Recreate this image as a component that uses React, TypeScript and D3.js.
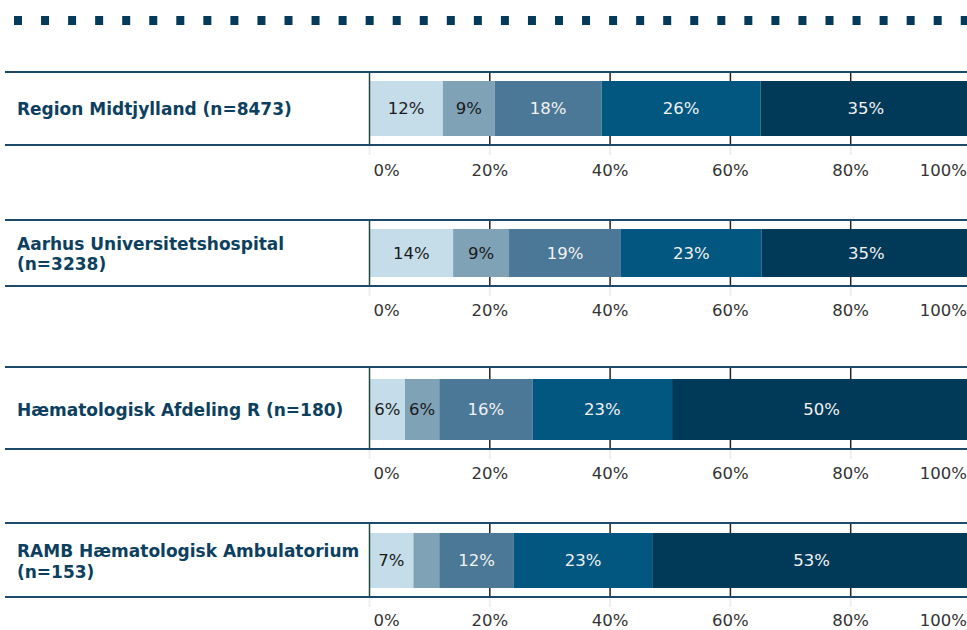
import React from "react";
import * as d3 from "d3";

const groups = [
  ["Region Midtjylland (n=8473)"],
  ["Aarhus Universitetshospital", "(n=3238)"],
  ["Hæmatologisk Afdeling R (n=180)"],
  ["RAMB Hæmatologisk Ambulatorium", "(n=153)"],
];
const categories = ["c1", "c2", "c3", "c4", "c5"];
const regionValues = [12.2, 8.6, 17.8, 26.4, 35.0];
const aarhusValues = [13.9, 9.3, 18.6, 23.4, 34.8];
const haemValues = [5.9, 5.7, 15.5, 23.2, 49.7];
const rambValues = [7.3, 4.3, 12.4, 23.0, 53.0];
const seriesValues = [regionValues, aarhusValues, haemValues, rambValues];
const tickValues = [0, 20, 40, 60, 80, 100];
const tickLabels = ["0%", "20%", "40%", "60%", "80%", "100%"];

const colors = ["#c5dde9", "#7fa2b6", "#4b7896", "#025781", "#013a59"];
const textColors = ["#1a1a1a", "#1a1a1a", "#f2f2f2", "#f2f2f2", "#f2f2f2"];

// layout per panel (pixel positions)
const topLines = [72, 220, 367, 523];
const bottomLines = [145, 286, 449, 597];
const barTops = [81, 229, 379, 533];
const barBottoms = [136, 277, 440, 588];
const tickLabelOffsets = [31, 30, 30, 29];

const W = 967;
const H = 630;

export default function App() {
  const x = d3.scaleLinear().domain([0, 100]).range([369.5, 971]);
  const lineColor = "#1b4a6b";
  const dots = d3.range(14, W, 27.05);
  return (
    <div style={{ position: "fixed", left: 0, top: 0 }}>
      <svg width={W} height={H} style={{ display: "block", background: "#fff" }}>
        {dots.map((d, i) => (
          <rect key={i} x={d} y={16} width={8} height={9} fill="#063a5a" />
        ))}
        {groups.map((g, gi) => {
          const vals = seriesValues[gi];
          const stacked = d3.stack<number[]>().keys(categories.map((_, i) => String(i)))
            .value((row, key) => row[+key])([vals]);
          const top = topLines[gi];
          const bot = bottomLines[gi];
          const bt = barTops[gi];
          const bb = barBottoms[gi];
          const mid = (bt + bb) / 2;
          return (
            <g key={gi}>
              {tickValues.slice(1, 5).map((t) => (
                <g key={t}>
                  <line x1={x(t)} x2={x(t)} y1={top} y2={bot} stroke="#222" strokeWidth={1.5} />
                  <line x1={x(t)} x2={x(t)} y1={bot} y2={bot + 10} stroke="#eeeeee" strokeWidth={2} />
                </g>
              ))}
              <line x1={x(0)} x2={x(0)} y1={bot} y2={bot + 10} stroke="#eeeeee" strokeWidth={2} />
              {stacked.map((s, si) => {
                const [a, b] = s[0];
                const v = vals[si];
                return (
                  <g key={si}>
                    <rect x={x(a)} y={bt} width={x(b) - x(a)} height={bb - bt} fill={colors[si]} />
                    {v >= 5 && (
                      <text
                        x={(x(a) + Math.min(x(b), 971)) / 2}
                        y={mid}
                        dy="0.36em"
                        textAnchor="middle"
                        fontFamily="DejaVu Sans"
                        fontSize={16.5}
                        fill={textColors[si]}
                      >
                        {Math.round(v)}%
                      </text>
                    )}
                  </g>
                );
              })}
              <line x1={x(0)} x2={x(0)} y1={top} y2={bot} stroke="#1f4a3f" strokeWidth={1.5} />
              <line x1={5} x2={W} y1={top} y2={top} stroke={lineColor} strokeWidth={2} />
              <line x1={5} x2={W} y1={bot} y2={bot} stroke={lineColor} strokeWidth={2} />
              <text
                x={17}
                y={mid}
                fontFamily="DejaVu Sans"
                fontWeight="bold"
                fontSize={17}
                fill="#0d3f5f"
              >
                {g.length === 1 ? (
                  <tspan x={17} dy="0.36em">{g[0]}</tspan>
                ) : (
                  g.map((l, li) => (
                    <tspan key={li} x={17} dy={li === 0 ? "-0.2em" : "1.22em"}>{l}</tspan>
                  ))
                )}
              </text>
              {tickValues.map((t, ti) => {
                const anchor = ti === 0 ? "start" : ti === tickValues.length - 1 ? "end" : "middle";
                const tx = ti === 0 ? x(0) + 4 : ti === tickValues.length - 1 ? W : x(t);
                return (
                  <text
                    key={t}
                    x={tx}
                    y={bot + tickLabelOffsets[gi]}
                    textAnchor={anchor}
                    fontFamily="DejaVu Sans"
                    fontSize={16.5}
                    fill="#333333"
                  >
                    {tickLabels[ti]}
                  </text>
                );
              })}
            </g>
          );
        })}
      </svg>
    </div>
  );
}
